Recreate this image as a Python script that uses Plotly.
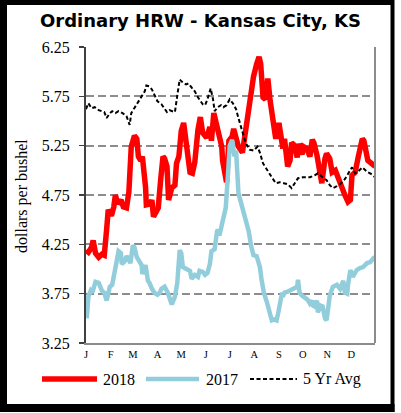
import plotly.graph_objects as go

# ---------------- data (day of year, $/bu) ----------------
days_2018 = [1, 4, 8, 10, 13, 17, 21, 24, 27, 29, 33, 36, 38, 41, 45, 48, 52, 55, 58, 62,
             65, 67, 70, 72, 76, 77, 82, 84, 86, 90, 92, 95, 98, 100, 103, 105, 109, 113, 115, 118,
             121, 124, 128, 132, 135, 138, 142, 145, 148, 153, 157, 159, 162, 167, 172, 173, 176, 178, 181, 185,
             187, 191, 193, 198, 202, 206, 209, 212, 216, 219, 221, 224, 227, 230, 233, 236, 240, 244, 249, 251,
             255, 258, 260, 264, 267, 269, 273, 275, 279, 283, 286, 288, 292, 296, 298, 302, 304, 308, 311, 315,
             318, 321, 325, 327, 331, 334, 336, 340, 344, 346, 349, 351, 354, 356, 359, 363, 365]
price_2018 = [4.19, 4.17, 4.22, 4.29, 4.16, 4.12, 4.15, 4.14, 4.40, 4.60, 4.54, 4.63, 4.75, 4.66, 4.70, 4.63, 4.62, 4.78, 5.24, 5.35,
              5.32, 5.14, 5.10, 5.14, 4.83, 4.65, 4.66, 4.70, 4.53, 4.60, 4.62, 4.90, 5.14, 5.12, 5.04, 4.70, 4.82, 4.85, 5.07, 5.14,
              5.40, 5.48, 5.24, 4.98, 4.97, 5.08, 5.41, 5.54, 5.38, 5.33, 5.44, 5.30, 5.58, 5.38, 5.24, 5.10, 4.92, 4.88, 5.30, 5.34,
              5.42, 5.31, 5.24, 5.18, 5.41, 5.64, 5.74, 5.95, 6.08, 6.15, 6.08, 5.74, 5.72, 5.93, 5.70, 5.56, 5.32, 5.48, 5.22, 5.32,
              5.04, 5.10, 5.28, 5.25, 5.13, 5.27, 5.16, 5.24, 5.22, 5.14, 5.31, 5.28, 5.15, 4.96, 4.87, 5.12, 5.17, 5.12, 4.98, 5.00,
              4.93, 4.88, 4.80, 4.75, 4.68, 4.70, 4.95, 4.98, 5.14, 5.24, 5.32, 5.30, 5.20, 5.10, 5.08, 5.05, 5.04]

days_2017 = [2, 4, 7, 9, 13, 17, 21, 24, 27, 31, 34, 37, 39, 42, 45, 46, 50, 52, 55, 57,
             60, 62, 65, 68, 71, 72, 76, 79, 81, 84, 87, 91, 94, 96, 100, 104, 106, 109, 113, 116,
             119, 121, 123, 128, 132, 134, 138, 142, 144, 148, 151, 154, 157, 159, 163, 166, 167, 169, 173, 177,
             180, 182, 185, 186, 188, 190, 192, 193, 198, 202, 206, 209, 212, 216, 220, 222, 225, 229, 233, 235,
             238, 241, 243, 245, 248, 249, 251, 255, 259, 263, 267, 268, 270, 273, 277, 280, 283, 286, 287, 289,
             292, 293, 296, 299, 302, 304, 306, 308, 312, 317, 321, 325, 327, 330, 331, 334, 337, 340, 342, 346,
             350, 355, 359, 363, 365]
price_2017 = [3.50, 3.72, 3.78, 3.76, 3.87, 3.86, 3.78, 3.76, 3.68, 3.82, 3.84, 3.96, 4.09, 4.18, 4.16, 4.05, 4.08, 4.13, 4.10, 4.06,
              4.24, 4.22, 4.12, 4.08, 4.04, 3.95, 4.04, 3.88, 3.86, 3.80, 3.76, 3.74, 3.76, 3.80, 3.82, 3.76, 3.72, 3.64, 3.72, 3.86,
              4.19, 4.16, 4.02, 4.00, 3.98, 3.90, 3.94, 3.92, 3.98, 3.97, 3.94, 3.96, 4.05, 4.18, 4.20, 4.38, 4.40, 4.34, 4.46, 4.62,
              4.98, 5.25, 5.31, 5.26, 5.14, 5.20, 4.95, 4.77, 4.62, 4.50, 4.38, 4.23, 4.14, 4.13, 4.02, 3.90, 3.76, 3.66, 3.55, 3.48,
              3.49, 3.48, 3.55, 3.66, 3.76, 3.72, 3.76, 3.77, 3.79, 3.80, 3.82, 3.89, 3.76, 3.73, 3.71, 3.69, 3.65, 3.68, 3.63, 3.62,
              3.68, 3.56, 3.63, 3.62, 3.50, 3.48, 3.60, 3.73, 3.82, 3.84, 3.80, 3.88, 3.76, 3.75, 3.84, 3.99, 3.92, 3.96, 3.99, 4.01,
              4.02, 4.06, 4.07, 4.11, 4.12]

days_avg = [1, 4, 8, 12, 17, 21, 24, 27, 31, 34, 38, 42, 47, 52, 56, 58, 61, 65, 68, 72,
            75, 77, 81, 84, 87, 91, 96, 100, 103, 106, 110, 113, 116, 119, 123, 127, 130, 134, 138, 142,
            144, 148, 151, 154, 158, 161, 163, 167, 171, 174, 178, 182, 186, 190, 193, 197, 202, 207, 212, 217,
            220, 224, 229, 235, 240, 245, 250, 255, 260, 264, 268, 274, 283, 289, 293, 299, 304, 308, 312, 317,
            321, 327, 331, 336, 340, 344, 349, 352, 356, 361, 365]
price_avg = [5.62, 5.68, 5.63, 5.64, 5.61, 5.60, 5.59, 5.53, 5.58, 5.60, 5.58, 5.60, 5.58, 5.55, 5.46, 5.58, 5.62, 5.68, 5.72, 5.77,
             5.80, 5.86, 5.85, 5.82, 5.77, 5.70, 5.67, 5.62, 5.59, 5.61, 5.60, 5.59, 5.76, 5.92, 5.89, 5.87, 5.88, 5.84, 5.80, 5.74,
             5.72, 5.67, 5.66, 5.72, 5.83, 5.72, 5.60, 5.64, 5.66, 5.64, 5.66, 5.72, 5.68, 5.62, 5.53, 5.41, 5.28, 5.21, 5.20, 5.24,
             5.18, 5.07, 5.00, 4.93, 4.87, 4.88, 4.87, 4.86, 4.82, 4.87, 4.92, 4.93, 4.93, 4.95, 4.97, 4.93, 4.90, 4.85, 4.82, 4.84,
             4.86, 4.91, 4.97, 5.03, 4.97, 4.99, 5.03, 5.01, 4.98, 4.96, 4.93]

month_days = [1, 32, 60, 91, 121, 152, 182, 213, 244, 274, 305, 335]
month_labels = ["J", "F", "M", "A", "M", "J", "J", "A", "S", "O", "N", "D"]
y_ticks = [3.25, 3.75, 4.25, 4.75, 5.25, 5.75, 6.25]

series_names = ["2018", "2017", "5 Yr Avg"]

# ---------------- layout geometry ----------------
W, H = 401, 413
L, R, T, B = 86, 26, 47, 70
PW, PH = W - L - R, H - T - B


def fx(p):
    return (p - L) / PW


def fy(p):
    return (H - B - p) / PH


SERIF = "Liberation Serif, Times New Roman, serif"
RED = "#FF0000"
BLUE = "#92CDDC"

fig = go.Figure()
fig.add_trace(go.Scatter(x=days_2018, y=price_2018, mode="lines", name=series_names[0],
                         line=dict(color=RED, width=5.5)))
fig.add_trace(go.Scatter(x=days_2017, y=price_2017, mode="lines", name=series_names[1],
                         line=dict(color=BLUE, width=4.5)))
fig.add_trace(go.Scatter(x=days_avg, y=price_avg, mode="lines", name=series_names[2],
                         line=dict(color="#000000", width=2, dash="4px,2.5px")))

shapes = []
# right plot border
shapes.append(dict(type="line", xref="paper", yref="paper", x0=1, x1=1, y0=0, y1=1,
                   line=dict(color="#8C8C8C", width=2)))
# outer black frame
for (x0, y0, x1, y1) in [(0, 0, 7, 412), (0, 0, 394, 5), (390.5, 0, 394.5, 412), (0, 404, 394.5, 412)]:
    shapes.append(dict(type="rect", xref="paper", yref="paper",
                       x0=fx(x0), x1=fx(x1), y0=fy(y0), y1=fy(y1),
                       fillcolor="#000000", line=dict(width=0), layer="above"))

# manual legend
leg_y = fy(379)
legend_items = [(42, 97, 101, dict(color=RED, width=5.5)),
                (146, 199, 204, dict(color=BLUE, width=4.5)),
                (250, 297, 301, dict(color="#000000", width=2, dash="4px,2.5px"))]
annotations = []
for name, (a, b, tx, ln) in zip(series_names, legend_items):
    shapes.append(dict(type="line", xref="paper", yref="paper", x0=fx(a), x1=fx(b),
                       y0=leg_y, y1=leg_y, line=ln))
    annotations.append(dict(xref="paper", yref="paper", x=fx(tx), y=leg_y, text=name,
                            showarrow=False, xanchor="left", yanchor="middle",
                            font=dict(family=SERIF, size=16, color="#000")))

# title
annotations.append(dict(xref="paper", yref="paper", x=fx(200), y=fy(21),
                        text="<b>Ordinary HRW - Kansas City, KS</b>", showarrow=False,
                        xanchor="center", yanchor="middle",
                        font=dict(family="DejaVu Sans, Verdana, sans-serif", size=18, color="#000")))
# y axis title
annotations.append(dict(xref="paper", yref="paper", x=fx(22), y=fy(196),
                        text="dollars per bushel", showarrow=False, textangle=-90,
                        xanchor="center", yanchor="middle",
                        font=dict(family=SERIF, size=16, color="#000")))

fig.update_layout(
    width=W, height=H,
    margin=dict(l=L, r=R, t=T, b=B, pad=0),
    paper_bgcolor="white", plot_bgcolor="white",
    showlegend=False,
    hovermode=False,
    shapes=shapes,
    annotations=annotations,
    xaxis=dict(range=[1, 365], tickvals=month_days, ticktext=month_labels,
               showgrid=False, zeroline=False, showline=True, linecolor="#8C8C8C", linewidth=2,
               ticks="", tickfont=dict(family=SERIF, size=10.5, color="#000")),
    yaxis=dict(range=[3.25, 6.25], tickvals=y_ticks, tickformat=".2f",
               showgrid=True, gridcolor="#8C8C8C", gridwidth=2, griddash="8px,4px",
               zeroline=False, showline=True, linecolor="#404040", linewidth=2,
               ticks="outside", ticklen=5, tickwidth=1.5, tickcolor="#404040",
               ticklabelstandoff=6,
               tickfont=dict(family=SERIF, size=16, color="#000")),
)

fig.write_html("out.html",
               config={"displayModeBar": False, "staticPlot": True},
               post_script="document.body.style.margin='0';document.body.style.overflow='hidden';")
